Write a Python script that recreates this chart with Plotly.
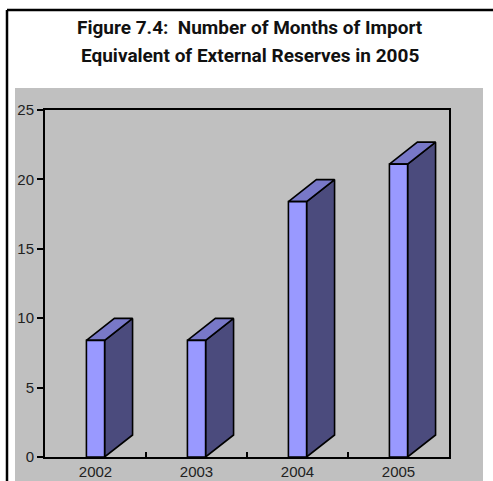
import plotly.graph_objects as go

# ---- data ----
years = ["2002", "2003", "2004", "2005"]
months = [8.4, 8.4, 18.4, 21.1]
y_ticks = [0, 5, 10, 15, 20, 25]

# ---- layout constants (pixels) ----
W, H = 493, 481
L, R, T, B = 45, 44, 110, 24
PW, PH = W - L - R, H - T - B

def px(x):
    return (x - L) / PW

def py(y):
    return (H - B - y) / PH

FRONT = "#9999FF"
SIDE = "#4B4B7D"
TOP = "#7878C8"

bw = 0.18      # front face width (category units)
dx = 0.277     # depth offset x (category units)
dy = 1.585     # depth offset y (value units)

xs = list(range(len(years)))

side_x, side_y, top_x, top_y, front_x, front_y = [], [], [], [], [], []
for x, v in zip(xs, months):
    xl, xr = x - bw / 2, x + bw / 2
    side_x += [xr, xr + dx, xr + dx, xr, xr, None]
    side_y += [0, dy, v + dy, v, 0, None]
    top_x += [xl, xr, xr + dx, xl + dx, xl, None]
    top_y += [v, v, v + dy, v + dy, v, None]
    front_x += [xl, xr, xr, xl, xl, None]
    front_y += [0, 0, v, v, 0, None]

fig = go.Figure()
for fx, fy, col in [(side_x, side_y, SIDE), (top_x, top_y, TOP), (front_x, front_y, FRONT)]:
    fig.add_trace(go.Scatter(
        x=fx, y=fy, mode="lines", fill="toself", fillcolor=col,
        line=dict(color="black", width=1.6), hoverinfo="skip", showlegend=False,
    ))

tick_font = dict(family="Liberation Sans, Arial, sans-serif", size=15, color="#222222")
title_font = dict(family="Roboto, Liberation Sans, sans-serif", size=19, color="#111111")

fig.update_layout(
    width=W, height=H,
    margin=dict(l=L, r=R, t=T, b=B, autoexpand=False),
    paper_bgcolor="white",
    plot_bgcolor="#C0C0C0",
    xaxis=dict(
        range=[-0.5, len(years) - 0.5], tickvals=xs, ticktext=years,
        ticks="", showline=True, linecolor="black", linewidth=2, mirror=True,
        showgrid=False, zeroline=False, tickfont=tick_font, fixedrange=True,
        automargin=False,
    ),
    xaxis2=dict(
        overlaying="x", matches="x", anchor="y", side="bottom",
        tickvals=[i + 0.5 for i in xs[:-1]], ticks="inside", ticklen=5,
        tickwidth=2, tickcolor="black", showticklabels=False,
        showline=False, showgrid=False, zeroline=False, automargin=False,
    ),
    yaxis=dict(
        range=[0, 25], tickvals=y_ticks, ticks="outside", ticklen=6,
        tickwidth=2, tickcolor="black", showline=True, linecolor="black",
        linewidth=2, mirror=True, showgrid=False, zeroline=False,
        tickfont=tick_font, fixedrange=True, automargin=False,
    ),
    shapes=[
        dict(type="rect", xref="paper", yref="paper", layer="below",
             x0=px(15), x1=px(483), y0=py(88), y1=py(H + 5),
             fillcolor="#C0C0C0", line=dict(width=0)),
        dict(type="line", xref="paper", yref="paper",
             x0=px(7), x1=px(W + 5), y0=py(10), y1=py(10),
             line=dict(color="black", width=2.5)),
        dict(type="line", xref="paper", yref="paper",
             x0=px(7), x1=px(7), y0=py(10), y1=py(H + 5),
             line=dict(color="black", width=2.5)),
    ],
    annotations=[
        dict(text="<b>Figure 7.4:  Number of Months of Import</b>", xref="paper", yref="paper",
             x=px(250), y=py(27), xanchor="center", yanchor="middle", showarrow=False,
             font=title_font),
        dict(text="<b>Equivalent of External Reserves in 2005</b>", xref="paper", yref="paper",
             x=px(250), y=py(55), xanchor="center", yanchor="middle", showarrow=False,
             font=title_font),
    ],
)

# dummy trace to activate xaxis2 ticks
fig.add_trace(go.Scatter(x=[None], y=[None], xaxis="x2", yaxis="y", showlegend=False, hoverinfo="skip"))

fig.write_html("out.html")
